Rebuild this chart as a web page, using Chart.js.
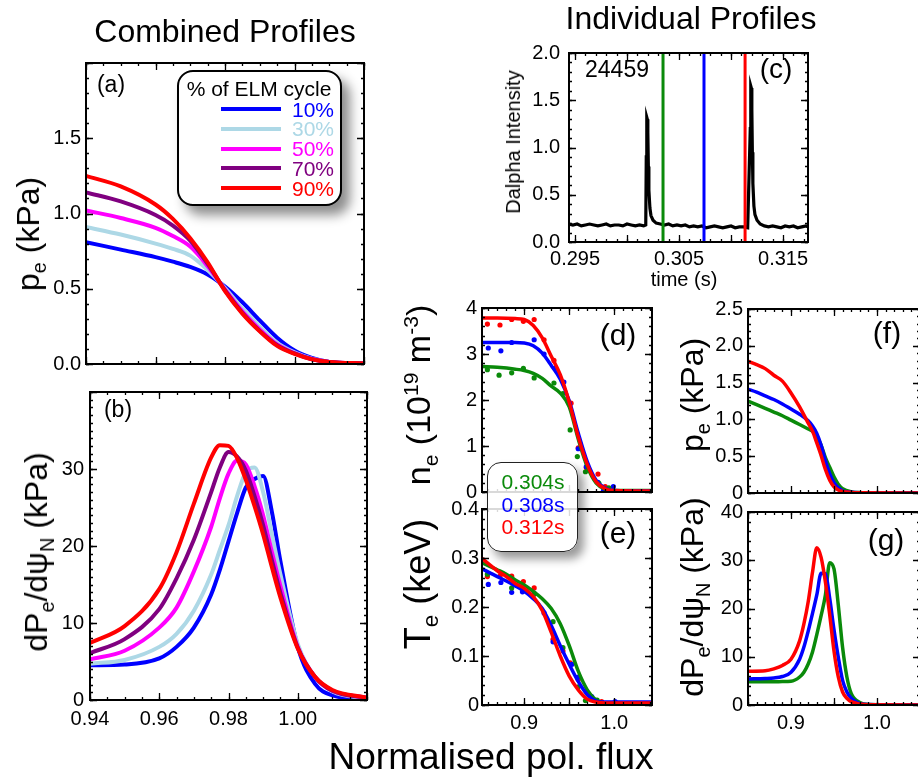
<!DOCTYPE html>
<html>
<head>
<meta charset="utf-8">
<script src="https://cdn.jsdelivr.net/npm/chart.js@4.4.0/dist/chart.umd.min.js"></script>
<style>
body { margin: 0; width: 918px; height: 780px; overflow: hidden; background: #fff; position: relative;
       font-family: "Liberation Sans", Arial, sans-serif; }
canvas { position: absolute; }
.t { position: absolute; white-space: nowrap; line-height: 1; color: #000; transform: translate(-50%, -50%); }
.rot { transform: translate(-50%, -50%) rotate(-90deg); }
sub, sup { font-size: 62%; line-height: 0; }
.box { position: absolute; background: #fff; border: 2px solid #000; border-radius: 16px; box-sizing: border-box; }
</style>
</head>
<body>
<canvas id="chartA"></canvas>
<canvas id="chartB"></canvas>
<canvas id="chartC"></canvas>
<canvas id="chartD"></canvas>
<canvas id="chartE"></canvas>
<canvas id="chartF"></canvas>
<canvas id="chartG"></canvas>

<div class="t" style="left:225px;top:31px;font-size:32px">Combined Profiles</div>
<div class="t" style="left:691px;top:18px;font-size:32px">Individual Profiles</div>
<div class="t" style="left:491px;top:756px;font-size:37px">Normalised pol. flux</div>

<div class="t rot" style="left:28px;top:234px;font-size:32px">p<sub>e</sub> (kPa)</div>
<div class="t rot" style="left:36px;top:552px;font-size:32px">dP<sub>e</sub>/dψ<sub>N</sub> (kPa)</div>
<div class="t rot" style="left:513px;top:142px;font-size:20px">Dalpha Intensity</div>
<div class="t" style="left:684px;top:279px;font-size:20px">time (s)</div>
<div class="t rot" style="left:418px;top:395px;font-size:34px">n<sub>e</sub> (10<sup>19</sup> m<sup>-3</sup>)</div>
<div class="t rot" style="left:418px;top:584px;font-size:36px">T<sub>e</sub> (keV)</div>
<div class="t rot" style="left:692px;top:395px;font-size:32px">p<sub>e</sub> (kPa)</div>
<div class="t rot" style="left:692px;top:597px;font-size:32px">dP<sub>e</sub>/dψ<sub>N</sub> (kPa)</div>

<div class="t" style="left:111px;top:84px;font-size:23px">(a)</div>
<div class="t" style="left:118px;top:409px;font-size:23px">(b)</div>
<div class="t" style="left:776px;top:69px;font-size:28px">(c)</div>
<div class="t" style="left:617px;top:69px;font-size:23px">24459</div>
<div class="t" style="left:618px;top:335px;font-size:30px">(d)</div>
<div class="t" style="left:618px;top:533px;font-size:30px">(e)</div>
<div class="t" style="left:887px;top:333px;font-size:30px">(f)</div>
<div class="t" style="left:886px;top:540px;font-size:30px">(g)</div>

<div id="legendA"></div>
<div id="legendT"></div>

<script>
// ---- combined profiles, % of ELM cycle ----
const ELM_NAMES = ["10%", "30%", "50%", "70%", "90%"];
const ELM_COLORS = ["#0000ff", "#add8e6", "#ff00ff", "#800080", "#ff0000"];

const peX  = [0.94, 0.95, 0.96, 0.965, 0.97, 0.975, 0.98, 0.985, 0.99, 0.995, 1.00, 1.005, 1.01, 1.02];
const pe10 = [0.81, 0.76, 0.71, 0.68, 0.645, 0.595, 0.515, 0.41, 0.29, 0.175, 0.09, 0.04, 0.013, 0.002];
const pe30 = [0.91, 0.86, 0.80, 0.765, 0.72, 0.625, 0.505, 0.37, 0.25, 0.14, 0.077, 0.035, 0.014, 0.003];
const pe50 = [1.02, 0.97, 0.905, 0.85, 0.78, 0.65, 0.495, 0.35, 0.23, 0.13, 0.072, 0.033, 0.014, 0.003];
const pe70 = [1.14, 1.08, 0.99, 0.92, 0.82, 0.665, 0.49, 0.34, 0.22, 0.125, 0.07, 0.032, 0.014, 0.004];
const pe90 = [1.25, 1.18, 1.06, 0.964, 0.836, 0.676, 0.484, 0.335, 0.217, 0.12, 0.068, 0.032, 0.014, 0.004];

const gradX  = [0.94, 0.95, 0.96, 0.965, 0.97, 0.975, 0.9775, 0.98, 0.9825, 0.985, 0.9875, 0.99, 0.9925, 0.995, 1.00, 1.005, 1.01, 1.02];
const grad10 = [4.5, 4.6, 5.4, 6.9, 9.4, 13.7, 16.9, 20.6, 24.3, 27.6, 28.7, 29.1, 24.5, 18.0, 6.9, 2.1, 0.6, 0.05];
const grad30 = [4.7, 5.2, 6.9, 8.6, 11.6, 16.3, 19.5, 22.7, 26.5, 29.6, 30.2, 27.0, 21.6, 16.3, 7.3, 3.0, 1.1, 0.2];
const grad50 = [5.3, 6.4, 9.4, 12.0, 16.7, 22.5, 26.2, 29.4, 31.1, 30.6, 27.8, 24.0, 19.3, 14.8, 6.9, 3.0, 1.2, 0.3];
const grad70 = [6.1, 7.9, 11.8, 15.8, 20.8, 27.0, 30.2, 32.2, 31.6, 29.8, 26.5, 22.7, 18.2, 13.9, 6.8, 3.0, 1.2, 0.3];
const grad90 = [7.4, 9.6, 14.4, 19.2, 25.5, 31.5, 33.1, 33.0, 31.4, 28.6, 25.2, 21.5, 17.3, 13.3, 6.7, 3.0, 1.3, 0.3];

// ---- Dalpha trace, shot 24459 ----
const dalphaTime = [
  0.2944, 0.2948, 0.2952, 0.2956, 0.2960, 0.2964, 0.2968, 0.2972, 0.2976, 0.2980, 0.2984, 0.2988, 0.2992, 0.2996,
  0.3000, 0.3004, 0.3008, 0.3012, 0.3016, 0.3018,
  0.30185, 0.3019, 0.30195, 0.3020, 0.30205, 0.3021, 0.3022, 0.3023, 0.3025, 0.3028, 0.3032,
  0.3036, 0.3040, 0.3044, 0.3048, 0.3052, 0.3056, 0.3060, 0.3064, 0.3068, 0.3072, 0.3076, 0.3080, 0.3084, 0.3088,
  0.3092, 0.3096, 0.3100, 0.3104, 0.3108, 0.3112, 0.3116,
  0.31185, 0.3119, 0.31195, 0.3120, 0.31205, 0.3121, 0.3122, 0.3123, 0.3125, 0.3128, 0.3132,
  0.3136, 0.3140, 0.3144, 0.3148, 0.3152, 0.3156, 0.3160, 0.3164, 0.3168, 0.3172, 0.3174];
const dalphaValue = [
  0.19, 0.18, 0.19, 0.17, 0.18, 0.19, 0.18, 0.17, 0.18, 0.19, 0.17, 0.18, 0.18, 0.17,
  0.19, 0.18, 0.17, 0.18, 0.17, 0.18,
  0.90, 1.32, 1.30, 1.16, 0.80, 0.55, 0.36, 0.28, 0.23, 0.20, 0.19,
  0.18, 0.19, 0.17, 0.18, 0.17, 0.18, 0.16, 0.17, 0.16, 0.17, 0.15, 0.16, 0.17, 0.16,
  0.15, 0.16, 0.17, 0.15, 0.16, 0.16, 0.15,
  1.20, 1.65, 1.63, 1.40, 0.95, 0.62, 0.38, 0.29, 0.23, 0.19, 0.17,
  0.16, 0.17, 0.16, 0.15, 0.17, 0.16, 0.17, 0.15, 0.16, 0.17, 0.16];
const markerTimes = [0.30346, 0.30740, 0.31135];

// ---- individual profiles ----
const TIME_NAMES = ["0.304s", "0.308s", "0.312s"];
const TIME_COLORS = ["#0a8a0a", "#0000ff", "#ff0000"];

const neX = [0.853, 0.87, 0.89, 0.90, 0.91, 0.92, 0.93, 0.94, 0.95, 0.96, 0.97, 0.98, 0.99, 1.00, 1.042];
const ne304 = [2.73, 2.71, 2.67, 2.64, 2.58, 2.47, 2.30, 2.15, 1.85, 1.15, 0.55, 0.19, 0.06, 0.03, 0.03];
const ne308 = [3.25, 3.25, 3.25, 3.24, 3.18, 3.02, 2.75, 2.45, 1.98, 1.28, 0.66, 0.25, 0.08, 0.03, 0.02];
const ne312 = [3.78, 3.78, 3.77, 3.75, 3.62, 3.35, 2.95, 2.55, 1.95, 1.20, 0.60, 0.22, 0.07, 0.03, 0.02];

const neDot304X = [0.859, 0.872, 0.886, 0.899, 0.911, 0.933, 0.943, 0.951, 0.959, 0.968, 0.983, 0.994];
const neDot304  = [2.66, 2.54, 2.59, 2.69, 2.48, 2.37, 2.14, 1.35, 0.77, 0.44, 0.19, 0.09];
const neDot308X = [0.860, 0.874, 0.886, 0.911, 0.922, 0.934, 0.944, 0.960, 0.969, 0.982, 0.988, 0.999];
const neDot308  = [3.13, 3.07, 3.25, 3.31, 3.00, 2.69, 2.39, 0.94, 0.55, 0.21, 0.03, 0.12];
const neDot312X = [0.859, 0.873, 0.886, 0.899, 0.911, 0.922, 0.933, 0.952, 0.960, 0.969, 0.982, 0.990];
const neDot312  = [3.65, 3.63, 3.75, 3.71, 3.75, 3.31, 2.86, 1.93, 0.96, 0.53, 0.39, 0.12];

const teX = [0.853, 0.87, 0.88, 0.89, 0.90, 0.91, 0.92, 0.93, 0.94, 0.95, 0.96, 0.97, 0.98, 0.99, 1.00, 1.042];
const te304 = [0.290, 0.276, 0.267, 0.255, 0.245, 0.232, 0.217, 0.197, 0.166, 0.121, 0.069, 0.031, 0.010, 0.004, 0.003, 0.003];
const te308 = [0.278, 0.262, 0.253, 0.243, 0.232, 0.217, 0.197, 0.162, 0.121, 0.083, 0.048, 0.021, 0.008, 0.006, 0.006, 0.006];
const te312 = [0.299, 0.274, 0.262, 0.248, 0.238, 0.221, 0.193, 0.148, 0.100, 0.059, 0.031, 0.012, 0.006, 0.004, 0.004, 0.004];

const teDot304X = [0.859, 0.886, 0.898, 0.911, 0.932, 0.943, 0.960, 0.968, 0.981];
const teDot304  = [0.267, 0.239, 0.241, 0.226, 0.170, 0.117, 0.037, 0.009, 0.010];
const teDot308X = [0.860, 0.874, 0.886, 0.898, 0.911, 0.922, 0.932, 0.953, 0.960, 0.969, 0.975, 1.001];
const teDot308  = [0.246, 0.250, 0.230, 0.231, 0.228, 0.188, 0.129, 0.083, 0.057, 0.028, 0.017, 0.007];
const teDot312X = [0.859, 0.873, 0.886, 0.899, 0.911, 0.932, 0.943, 0.951, 0.960, 0.969, 0.986];
const teDot312  = [0.262, 0.263, 0.263, 0.252, 0.239, 0.134, 0.110, 0.086, 0.052, 0.028, 0.007];

const pX = [0.85, 0.86, 0.87, 0.88, 0.89, 0.90, 0.91, 0.92, 0.925, 0.93, 0.935, 0.94, 0.945, 0.95, 0.955, 0.96, 0.97, 0.98, 1.05];
const p304 = [1.25, 1.20, 1.15, 1.10, 1.05, 0.99, 0.93, 0.87, 0.84, 0.77, 0.65, 0.48, 0.35, 0.22, 0.12, 0.06, 0.015, 0.005, 0];
const p308 = [1.41, 1.37, 1.32, 1.27, 1.21, 1.14, 1.07, 0.98, 0.91, 0.81, 0.65, 0.44, 0.26, 0.14, 0.07, 0.03, 0.01, 0.004, 0];
const p312 = [1.79, 1.745, 1.69, 1.60, 1.52, 1.36, 1.17, 0.95, 0.84, 0.68, 0.51, 0.32, 0.175, 0.085, 0.04, 0.02, 0.008, 0.004, 0];

const dpX = [0.85, 0.87, 0.88, 0.89, 0.90, 0.91, 0.915, 0.92, 0.925, 0.93, 0.935, 0.94, 0.945, 0.95, 0.955, 0.96, 0.965, 0.97, 0.98, 0.99, 1.05];
const dp304 = [4.8, 4.8, 4.8, 4.85, 4.9, 5.8, 6.8, 8.5, 11.0, 14.6, 18.5, 22.8, 29.5, 28.2, 20.7, 11.9, 5.8, 2.4, 0.5, 0.1, 0];
const dp308 = [5.4, 5.5, 5.6, 5.9, 6.8, 9.5, 12.0, 15.3, 19.0, 22.8, 27.3, 27.2, 22.1, 15.6, 9.9, 5.1, 2.7, 1.4, 0.3, 0.1, 0];
const dp312 = [7.0, 7.1, 7.5, 8.2, 9.5, 13.3, 16.8, 21.4, 27.5, 32.6, 30.6, 25.5, 18.7, 11.2, 5.8, 2.7, 1.4, 0.7, 0.2, 0.05, 0];

// ---- tick labels ----
const peTicks = [0, 0.5, 1.0, 1.5],            peTickText = ["0.0", "0.5", "1.0", "1.5"];
const gradTicks = [0, 10, 20, 30],             gradTickText = ["0", "10", "20", "30"];
const combXTicks = [0.94, 0.96, 0.98, 1.00],   combXTickText = ["0.94", "0.96", "0.98", "1.00"];
const timeTicks = [0.295, 0.305, 0.315],       timeTickText = ["0.295", "0.305", "0.315"];
const dalphaTicks = [0, 0.5, 1.0, 1.5, 2.0],   dalphaTickText = ["0.0", "0.5", "1.0", "1.5", "2.0"];
const neTicks = [0, 1, 2, 3, 4],               neTickText = ["0", "1", "2", "3", "4"];
const teTicks = [0, 0.1, 0.2, 0.3, 0.4],       teTickText = ["0", "0.1", "0.2", "0.3", "0.4"];
const pTicks = [0, 0.5, 1.0, 1.5, 2.0, 2.5],   pTickText = ["0", "0.5", "1.0", "1.5", "2.0", "2.5"];
const dpTicks = [0, 10, 20, 30, 40],           dpTickText = ["0", "10", "20", "30", "40"];
const indXTicks = [0.9, 1.0],                  indXTickText = ["0.9", "1.0"];

Chart.defaults.font.family = '"Liberation Sans", Arial, sans-serif';
Chart.defaults.color = "#000";

const pts = (xs, ys) => xs.map((x, i) => ({ x, y: ys[i] }));

// frame box with inward ticks on all four sides
const frameTicks = {
    id: "frameTicks",
    afterDatasetsDraw(chart, args, o) {
        const { ctx, chartArea: a, scales: { x, y } } = chart;
        ctx.save();
        ctx.strokeStyle = "#000";
        ctx.lineWidth = 1.3;
        const marks = (scale, step, len, horiz) => {
            for (let k = Math.ceil(scale.min / step - 1e-6); k * step <= scale.max + 1e-9; k++) {
                const p = Math.round(scale.getPixelForValue(k * step)) + 0.5;
                ctx.beginPath();
                if (horiz) {
                    ctx.moveTo(p, a.bottom); ctx.lineTo(p, a.bottom - len);
                    ctx.moveTo(p, a.top); ctx.lineTo(p, a.top + len);
                } else {
                    ctx.moveTo(a.left, p); ctx.lineTo(a.left + len, p);
                    ctx.moveTo(a.right, p); ctx.lineTo(a.right - len, p);
                }
                ctx.stroke();
            }
        };
        marks(x, o.xMinor, 3, true);
        marks(x, o.xMajor, 7, true);
        marks(y, o.yMinor, 3, false);
        marks(y, o.yMajor, 7, false);
        ctx.lineWidth = 2;
        ctx.strokeRect(a.left, a.top, a.right - a.left, a.bottom - a.top);
        ctx.restore();
    }
};

// f = frame in page pixels, s = scale setup
function makePanel(id, f, datasets, s) {
    const padL = 64, padT = 14, padR = 8, padB = s.xText ? 36 : 8;
    const cv = document.getElementById(id);
    const w = f.r - f.l + padL + padR, h = f.b - f.t + padT + padB;
    cv.width = w; cv.height = h;
    cv.style.left = (f.l - padL) + "px";
    cv.style.top = (f.t - padT) + "px";
    cv.style.width = w + "px";
    cv.style.height = h + "px";

    new Chart(cv, {
        type: "line",
        data: { datasets },
        options: {
            responsive: false,
            animation: false,
            layout: { padding: { top: padT, right: padR, left: 0, bottom: 0 }, autoPadding: false },
            plugins: { legend: { display: false }, tooltip: { enabled: false }, frameTicks: s.ticks },
            scales: {
                x: {
                    type: "linear", min: s.x[0], max: s.x[1],
                    grid: { display: false, drawTicks: false }, border: { display: false },
                    afterBuildTicks: ax => { ax.ticks = (s.xVals || []).map(v => ({ value: v })); },
                    afterFit: ax => { ax.height = padB; },
                    ticks: {
                        display: !!s.xText, autoSkip: false, maxRotation: 0, padding: s.xPad || 6,
                        font: { size: 20 }, callback: (v, i) => s.xText ? s.xText[i] : ""
                    }
                },
                y: {
                    type: "linear", min: s.y[0], max: s.y[1],
                    grid: { display: false, drawTicks: false }, border: { display: false },
                    afterBuildTicks: ax => { ax.ticks = s.yVals.map(v => ({ value: v })); },
                    afterFit: ax => { ax.width = padL; },
                    ticks: {
                        autoSkip: false, padding: s.yPad || 5,
                        font: { size: 20 }, callback: (v, i) => s.yText[i]
                    }
                }
            }
        },
        plugins: [frameTicks]
    });
}

function curve(xs, ys, color, order, width) {
    return { data: pts(xs, ys), borderColor: color, borderWidth: width || 4, pointRadius: 0,
             cubicInterpolationMode: "monotone", fill: false, order };
}
function dots(xs, ys, color) {
    return { data: pts(xs, ys), showLine: false, pointRadius: 2.6, pointBorderWidth: 0,
             pointBackgroundColor: color, borderColor: color, order: 10 };
}

// (a) pe, combined
const peSeries = [pe10, pe30, pe50, pe70, pe90];
makePanel("chartA", { l: 86, t: 60, r: 364, b: 373 },
    peSeries.map((ys, i) => curve(peX, ys, ELM_COLORS[i], 4 - i)),
    { x: [0.94, 1.02], y: [0, 2.0], yVals: peTicks, yText: peTickText, yPad: 5,
      xVals: combXTicks, ticks: { xMajor: 0.02, xMinor: 0.005, yMajor: 0.5, yMinor: 0.1 } });

// (b) gradient, combined
const gradSeries = [grad10, grad30, grad50, grad70, grad90];
makePanel("chartB", { l: 90, t: 388, r: 367, b: 700 },
    gradSeries.map((ys, i) => curve(gradX, ys, ELM_COLORS[i], 4 - i)),
    { x: [0.94, 1.02], y: [0, 40], yVals: gradTicks, yText: gradTickText, yPad: 6,
      xVals: combXTicks, xText: combXTickText, xPad: 7,
      ticks: { xMajor: 0.02, xMinor: 0.005, yMajor: 10, yMinor: 1 } });

// (c) Dalpha with the three profile times
makePanel("chartC", { l: 569, t: 46, r: 808, b: 242 },
    [{ data: pts(dalphaTime, dalphaValue), borderColor: "#000", borderWidth: 3.2, pointRadius: 0, tension: 0, order: 5 }]
        .concat(markerTimes.map((t, i) => ({ data: pts([t, t], [0, 2]), borderColor: TIME_COLORS[i],
            borderWidth: 3, pointRadius: 0, order: 0 }))),
    { x: [0.29442, 0.3174], y: [0, 2.0], yVals: dalphaTicks, yText: dalphaTickText, yPad: 9,
      xVals: timeTicks, xText: timeTickText, xPad: 5,
      ticks: { xMajor: 0.005, xMinor: 0.001, yMajor: 0.5, yMinor: 0.1 } });

// (d) ne
makePanel("chartD", { l: 482, t: 305, r: 652, b: 501 },
    [curve(neX, ne304, TIME_COLORS[0], 3, 3.5), curve(neX, ne308, TIME_COLORS[1], 2, 3.5), curve(neX, ne312, TIME_COLORS[2], 1, 3.5),
     dots(neDot304X, neDot304, TIME_COLORS[0]), dots(neDot308X, neDot308, TIME_COLORS[1]), dots(neDot312X, neDot312, TIME_COLORS[2])],
    { x: [0.853, 1.042], y: [0, 4], yVals: neTicks, yText: neTickText, yPad: 5,
      xVals: indXTicks, ticks: { xMajor: 0.05, xMinor: 0.01, yMajor: 1, yMinor: 0.2 } });

// (e) Te
makePanel("chartE", { l: 482, t: 508, r: 652, b: 705 },
    [curve(teX, te304, TIME_COLORS[0], 3, 3.5), curve(teX, te308, TIME_COLORS[1], 2, 3.5), curve(teX, te312, TIME_COLORS[2], 1, 3.5),
     dots(teDot304X, teDot304, TIME_COLORS[0]), dots(teDot308X, teDot308, TIME_COLORS[1]), dots(teDot312X, teDot312, TIME_COLORS[2])],
    { x: [0.853, 1.042], y: [0, 0.4], yVals: teTicks, yText: teTickText, yPad: 3,
      xVals: indXTicks, xText: indXTickText, xPad: 6,
      ticks: { xMajor: 0.05, xMinor: 0.01, yMajor: 0.1, yMinor: 0.02 } });

// (f) pe, individual
makePanel("chartF", { l: 748, t: 306, r: 920, b: 502 },
    [curve(pX, p304, TIME_COLORS[0], 3, 3.5), curve(pX, p308, TIME_COLORS[1], 2, 3.5), curve(pX, p312, TIME_COLORS[2], 1, 3.5)],
    { x: [0.85, 1.05], y: [0, 2.5], yVals: pTicks, yText: pTickText, yPad: 5,
      xVals: indXTicks, ticks: { xMajor: 0.05, xMinor: 0.01, yMajor: 0.5, yMinor: 0.1 } });

// (g) gradient, individual
makePanel("chartG", { l: 748, t: 509, r: 920, b: 705 },
    [curve(dpX, dp304, TIME_COLORS[0], 3, 3.5), curve(dpX, dp308, TIME_COLORS[1], 2, 3.5), curve(dpX, dp312, TIME_COLORS[2], 1, 3.5)],
    { x: [0.85, 1.05], y: [0, 40], yVals: dpTicks, yText: dpTickText, yPad: 5,
      xVals: indXTicks, xText: indXTickText, xPad: 6,
      ticks: { xMajor: 0.05, xMinor: 0.01, yMajor: 10, yMinor: 2 } });

// ---- legends (html) ----
function legendA() {
    let html = '<div class="box" style="left:177px;top:70px;width:165px;height:136px;box-shadow:8px 9px 12px rgba(0,0,0,0.45);z-index:5"></div>';
    html += '<div class="t" style="left:259px;top:88px;font-size:21px;z-index:6">% of ELM cycle</div>';
    ELM_NAMES.forEach((n, i) => {
        const y = 109 + i * 19.8;
        html += `<div style="position:absolute;left:221px;top:${y - 2}px;width:60px;height:4px;background:${ELM_COLORS[i]};z-index:6"></div>`;
        html += `<div style="position:absolute;right:${918 - 334}px;top:${y - 10.5}px;font-size:21px;line-height:21px;color:${ELM_COLORS[i]};z-index:6">${n}</div>`;
    });
    document.getElementById("legendA").innerHTML = html;
}
function legendT() {
    let html = '<div class="box" style="left:487px;top:462px;width:91px;height:90px;border:1.5px solid #222;border-radius:14px;background:rgba(255,255,255,0.85);box-shadow:6px 7px 10px rgba(0,0,0,0.4);z-index:5"></div>';
    TIME_NAMES.forEach((n, i) => {
        html += `<div class="t" style="left:533px;top:${481 + i * 22.5}px;font-size:21px;color:${TIME_COLORS[i]};z-index:6">${n}</div>`;
    });
    document.getElementById("legendT").innerHTML = html;
}
legendA();
legendT();
</script>
</body>
</html>
